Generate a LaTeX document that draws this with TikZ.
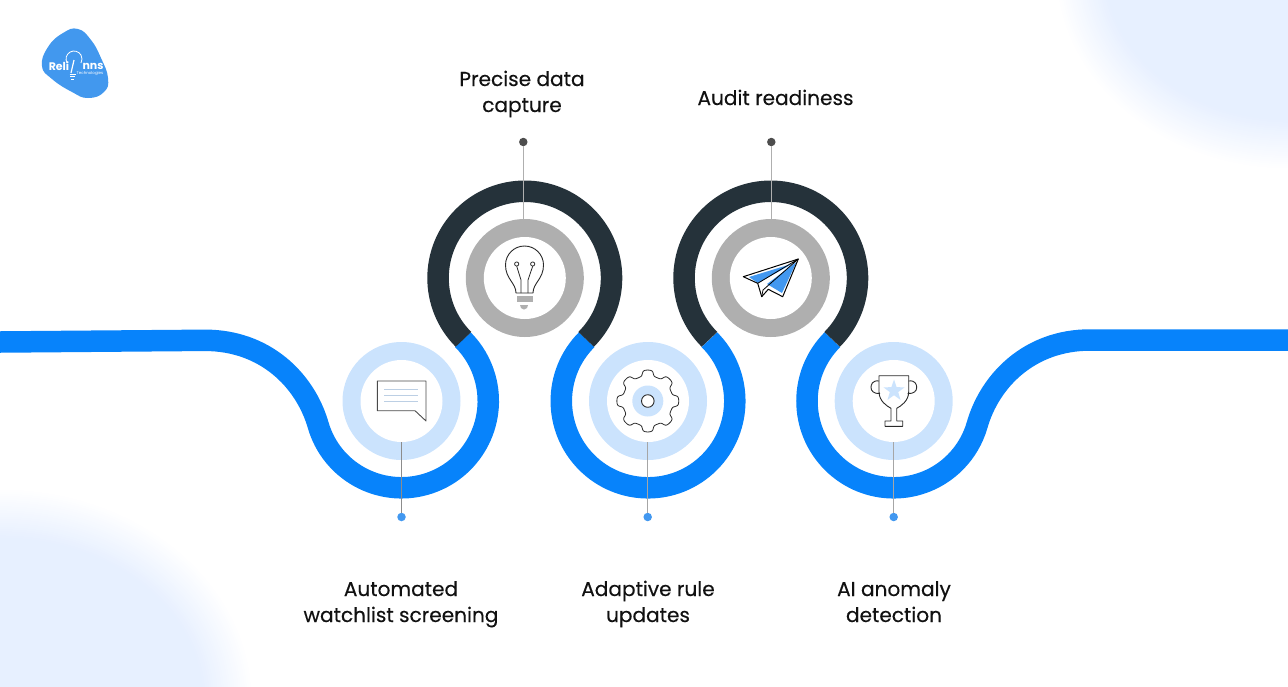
\documentclass[tikz,border=0pt]{standalone}
\usepackage{fontspec}
\setmainfont{Poppins}
\definecolor{flowblue}{HTML}{0783FB}
\definecolor{flowdark}{HTML}{25323A}
\definecolor{ringlight}{HTML}{CBE3FD}
\definecolor{ringgray}{HTML}{AFAFAF}
\definecolor{dotblue}{HTML}{4298F0}
\definecolor{dotdark}{HTML}{4D4D4D}
\definecolor{blobc}{HTML}{E6EFFF}
\definecolor{logoblue}{HTML}{4298EE}
\definecolor{iconline}{HTML}{2A2A2A}
\definecolor{ink}{HTML}{111111}
\tikzset{
  band/.style={line width=21.5pt},
  rim/.style={circle,minimum size=118pt,inner sep=0pt,outer sep=0pt},
  hub/.style={circle,fill=white,minimum size=82pt,inner sep=0pt,outer sep=0pt},
  dotnode/.style={circle,minimum size=8.5pt,inner sep=0pt,outer sep=0pt},
  label/.style={font=\fontsize{20.1}{26}\selectfont\addfontfeatures{FakeBold=0.3},text=ink,align=center,inner sep=0pt},
  stalk/.style={line width=1.2pt},
  icon/.style={draw=iconline,line width=0.9pt,line join=round},
}
\begin{document}
\begin{tikzpicture}[x=1pt,y=1pt,yscale=-1]
\useasboundingbox (0,0) rectangle (1288,686);
% background blobs
\begin{scope}
\clip (0,0) rectangle (1288,686);
\foreach \i in {0,...,24}{
  \pgfmathsetmacro{\p}{4*\i}
  \pgfmathsetmacro{\ax}{235-50*\i/24}
  \pgfmathsetmacro{\ay}{200-50*\i/24}
  \pgfmathsetmacro{\bx}{253-50*\i/24}
  \pgfmathsetmacro{\by}{212-50*\i/24}
  \fill[blobc!\p!white] (1290,-30) ellipse [x radius=\ax,y radius=\ay];
  \fill[blobc!\p!white] (0,700) ellipse [x radius=\bx,y radius=\by];
}
\end{scope}
% logo
\fill[logoblue] plot[smooth cycle,tension=0.8] coordinates {(42,66) (48,47) (63,33) (78,29) (91,40) (101,58) (108,78) (104,92) (88,98) (72,92) (52,79)};
\draw[white,line width=0.8pt] (67.1,63) arc (150:390:8);
\draw[white,line width=1.2pt] (71,73) -- (74,60);
\draw[white,line width=0.8pt] (69.5,74) -- (75.5,74) (70,76.5) -- (75,76.5) (71,79) -- (74,79);
\node[inner sep=0pt,text=white,font=\fontsize{11}{14}\selectfont\bfseries] (lg1) at (59,66) {Reli};
\node[inner sep=0pt,text=white,font=\fontsize{11}{14}\selectfont\bfseries] (lg2) at (93,66) {nns};
\node[inner sep=0pt,text=white,font=\fontsize{4}{5}\selectfont] (lg3) at (90,73.5) {Technologies};
% bands
\draw[flowblue,band] (0,342) -- (205,340.3) .. controls (265,340.3) and (305,380) .. (318.11,424.91) arc (164:-45:86.75);
\draw[flowblue,band] (586.7,339.7) arc (225:-45:86.75);
\draw[flowblue,band] (832.4,339.7) arc (225:16:86.75) .. controls (990,380) and (1030,340) .. (1090,340) -- (1288,340);
\draw[flowdark,band] (463.46,339.34) arc (135:405:86.75);
\draw[flowdark,band] (709.46,339.34) arc (135:405:86.75);
% rings
\node[rim,fill=ringlight] (r1) at (401.5,401) {};
\node[hub] (h1) at (401.5,401) {};
\node[rim,fill=ringgray] (r2) at (524.8,278) {};
\node[hub] (h2) at (524.8,278) {};
\node[rim,fill=ringlight] (r3) at (648,401) {};
\node[hub] (h3) at (648,401) {};
\node[rim,fill=ringgray] (r4) at (770.8,278) {};
\node[hub] (h4) at (770.8,278) {};
\node[rim,fill=ringlight] (r5) at (893.7,401) {};
\node[hub] (h5) at (893.7,401) {};
% dots
\node[dotnode,fill=dotblue] (d1) at (401.5,517) {};
\node[dotnode,fill=dotdark] (d2) at (523.3,142) {};
\node[dotnode,fill=dotblue] (d3) at (647.7,517) {};
\node[dotnode,fill=dotdark] (d4) at (771.3,142) {};
\node[dotnode,fill=dotblue] (d5) at (893.7,517) {};
% connectors
\draw[stalk,draw=gray!90] (d1) -- (h1.south);
\draw[stalk,draw=ringgray] (d2) -- (d2|-r2.north);
\draw[stalk,draw=gray!70] (d3) -- (d3|-h3.south);
\draw[stalk,draw=ringgray] (d4) -- (d4|-r4.north);
\draw[stalk,draw=gray!70] (d5) -- (h5.south);
% chat icon
\draw[icon,fill=white,draw=iconline!85] (377.3,381) -- (426,381) -- (426,421) -- (415,410.7) -- (377.3,410.7) -- cycle;
\draw[line width=0.8pt,draw=ringlight!80!gray] (384,389.3) -- (418,389.3) (384,395.3) -- (418,395.3) (384,401.3) -- (418,401.3);
% bulb icon
\draw[icon] (516,293) .. controls (516,283) and (505.5,279) .. (505.5,265) arc (180:360:19) .. controls (543.5,279) and (533,283) .. (533,293) -- cycle;
\draw[icon,line width=0.8pt] (516.7,266.2) -- (521,280) -- (521,293) (532.7,266.2) -- (528,280) -- (528,293);
\draw[icon,line width=0.8pt] (516.7,264) circle (2.1) (532.7,264) circle (2.1);
\fill[ringgray] (517,296) rectangle (533,301.7);
\fill[ringgray] (520,305) -- (528,305) -- (527,308) -- (524,309.5) -- (521,308) -- cycle;
% plane icon
\fill[white] (743.3,276.7) -- (798.3,259) -- (782.7,296.7) -- (768.3,289.3) -- (761.7,296.7) -- (757.7,283.3) -- cycle;
\fill[dotblue] (749,277) -- (793,263.5) -- (758,283) -- cycle;
\fill[dotblue] (796.5,262) -- (782,293) -- (767,284) -- cycle;
\draw[icon,draw=black,line width=1pt] (743.3,276.7) -- (798.3,259) -- (782.7,296.7) -- (768.3,289.3) -- (761.7,296.7) -- (757.7,283.3) -- cycle;
\draw[icon,draw=black,line width=0.8pt] (757.7,283.3) -- (798.3,259) -- (763,290) (761.7,296.7) -- (763,290);
% gear icon
\fill[ringlight] (647.8,401) circle (15.5);
\draw[icon,fill=white] (647.8,401) circle (6.3);
\draw[icon,line width=0.8pt] plot[domain=0:360,samples=361] ({647.8+(28+3.2*cos(8*\x)/sqrt(cos(8*\x)*cos(8*\x)+0.2))*cos(\x)},{401+(28+3.2*cos(8*\x)/sqrt(cos(8*\x)*cos(8*\x)+0.2))*sin(\x)}) -- cycle;
% trophy icon
\fill[ringlight] (894,379.5) -- (896.6,387.2) -- (904.6,387.3) -- (898.2,392.1) -- (900.5,399.9) -- (894,395.2) -- (887.5,399.9) -- (889.8,392.1) -- (883.4,387.3) -- (891.4,387.2) -- cycle;
\draw[icon] (879,375.7) -- (908.7,375.7) -- (908.7,391.7) .. controls (908.7,401) and (901,406) .. (896.7,408.3) -- (896.7,421) -- (902.7,421) -- (902.7,426.3) -- (885,426.3) -- (885,421) -- (891,421) -- (891,408.3) .. controls (886.7,406) and (879,401) .. (879,391.7) -- cycle;
\draw[icon] (879,381) .. controls (872,380) and (871,385) .. (871,387.5) .. controls (871,391) and (874,394) .. (880,393.5);
\draw[icon] (908.7,381) .. controls (915.7,380) and (916.7,385) .. (916.7,387.5) .. controls (916.7,391) and (913.7,394) .. (907.7,393.5);
% labels
\node[label] (t1) at (401,603.8) {\strut Automated\\\strut watchlist screening};
\node[label] (t2) at (522,93.8) {\strut Precise data\\\strut capture};
\node[label] (t3) at (648,603.8) {\strut Adaptive rule\\\strut updates};
\node[label] (t4) at (775.5,99.8) {\strut Audit readiness};
\node[label] (t5) at (894,603.8) {\strut AI anomaly\\\strut detection};
\end{tikzpicture}
\end{document}
